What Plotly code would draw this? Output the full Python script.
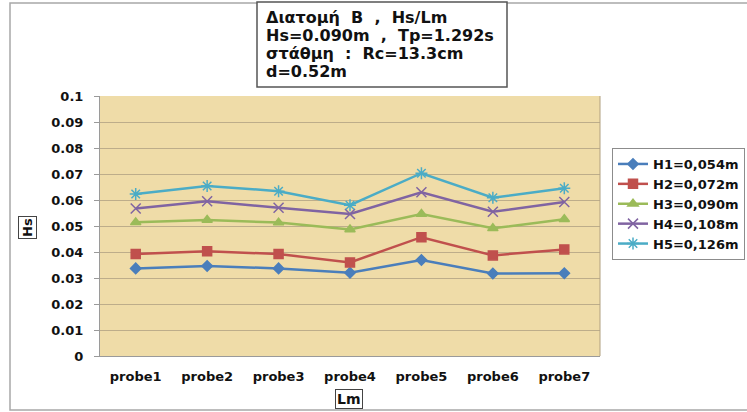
import plotly.graph_objects as go

# Wave height Hs measured at each probe, for five incident wave heights
probes = ["probe1", "probe2", "probe3", "probe4", "probe5", "probe6", "probe7"]
h1 = [0.0337, 0.0346, 0.0337, 0.0320, 0.0369, 0.0317, 0.0318]
h2 = [0.0392, 0.0403, 0.0392, 0.0360, 0.0457, 0.0387, 0.0410]
h3 = [0.0514, 0.0523, 0.0513, 0.0487, 0.0546, 0.0491, 0.0526]
h4 = [0.0567, 0.0595, 0.0570, 0.0546, 0.0630, 0.0555, 0.0592]
h5 = [0.0623, 0.0654, 0.0634, 0.0580, 0.0703, 0.0609, 0.0645]

series_names = ["H1=0,054m", "H2=0,072m", "H3=0,090m", "H4=0,108m", "H5=0,126m"]
series_values = [h1, h2, h3, h4, h5]
colors = ["#4A7EBB", "#C0504D", "#9BBB59", "#8064A2", "#4BACC6"]
symbols = ["diamond", "square", "triangle-up", "x-thin-open", "asterisk-open"]
sizes = [8, 9, 9, 10, 10]

y_ticks = [0, 0.01, 0.02, 0.03, 0.04, 0.05, 0.06, 0.07, 0.08, 0.09, 0.1]
y_tick_text = ["0", "0.01", "0.02", "0.03", "0.04", "0.05", "0.06", "0.07", "0.08", "0.09", "0.1"]

title_lines = [
    "Διατομή  B  ,  Hs/Lm",
    "Hs=0.090m  ,  Tp=1.292s",
    "στάθμη  :  Rc=13.3cm",
    "d=0.52m",
]

FONT = "DejaVu Sans"
W, H = 747, 412
L, R, T, B = 100, 147, 96, 56
PW, PH = W - L - R, H - T - B


def px(x):
    return (x - L) / PW


def py(y):
    return (H - B - y) / PH


fig = go.Figure()
for name, vals, col, sym, sz in zip(series_names, series_values, colors, symbols, sizes):
    fig.add_trace(go.Scatter(
        x=probes, y=vals, name=name, mode="lines+markers",
        line=dict(color=col, width=2.5),
        marker=dict(symbol=sym, size=sz, color=col, line=dict(color=col, width=1.5)),
    ))

fig.update_layout(
    width=W, height=H,
    margin=dict(l=L, r=R, t=T, b=B, autoexpand=False),
    paper_bgcolor="white",
    plot_bgcolor="#EFDCA8",
    font=dict(family=FONT, color="#111111"),
    showlegend=True,
    legend=dict(
        x=px(612), y=py(148), xanchor="left", yanchor="top",
        bordercolor="#8C8C8C", borderwidth=1, bgcolor="white",
        font=dict(family=FONT, size=13, color="#111111", weight="bold"),
        tracegroupgap=0, itemwidth=30,
    ),
    xaxis=dict(
        type="category", range=[-0.5, 6.5],
        showgrid=False, showline=True, linecolor="#9A9A9A", linewidth=1,
        mirror=False, ticks="", ticklabelstandoff=8,
        tickfont=dict(family=FONT, size=13, color="#111111", weight="bold"),
        fixedrange=True,
    ),
    yaxis=dict(
        range=[0, 0.1], tickvals=y_ticks, ticktext=y_tick_text,
        showgrid=True, gridcolor="#BDAD8A", gridwidth=1,
        showline=True, linecolor="#9A9A9A", linewidth=1,
        ticks="outside", ticklen=5, tickcolor="#9A9A9A", ticklabelstandoff=8,
        tickfont=dict(family=FONT, size=13, color="#111111", weight="bold"),
        zeroline=False, fixedrange=True,
    ),
)

# outer chart frame
fig.add_shape(type="rect", xref="paper", yref="paper",
              x0=px(10), x1=px(760), y0=py(410), y1=py(3),
              line=dict(color="#A8A8A8", width=1.5), layer="below")
# right edge of plot area
fig.add_shape(type="line", xref="paper", yref="paper",
              x0=1, x1=1, y0=0, y1=1, line=dict(color="#B0A080", width=1))

# title box
fig.add_shape(type="rect", xref="paper", yref="paper",
              x0=px(257), x1=px(507), y0=py(87), y1=py(2),
              line=dict(color="#555555", width=1.5), fillcolor="white")
for i, line in enumerate(title_lines):
    fig.add_annotation(
        text=line, xref="paper", yref="paper",
        x=px(264), y=py(18 + 17.7 * i), xanchor="left", yanchor="middle",
        showarrow=False, font=dict(family=FONT, size=16, color="#111111", weight="bold"),
    )

# axis titles in boxes
fig.add_annotation(
    text="Hs", xref="paper", yref="paper", x=px(27), y=py(228),
    xanchor="center", yanchor="middle", textangle=-90, showarrow=False,
    font=dict(family=FONT, size=13, color="#111111", weight="bold"),
    bordercolor="#444444", borderwidth=1, borderpad=1, bgcolor="white",
)
fig.add_annotation(
    text="Lm", xref="paper", yref="paper", x=px(349), y=py(399),
    xanchor="center", yanchor="middle", showarrow=False,
    font=dict(family=FONT, size=14, color="#111111", weight="bold"),
    bordercolor="#444444", borderwidth=1, borderpad=1, bgcolor="white",
)

fig.write_html("out.html")
